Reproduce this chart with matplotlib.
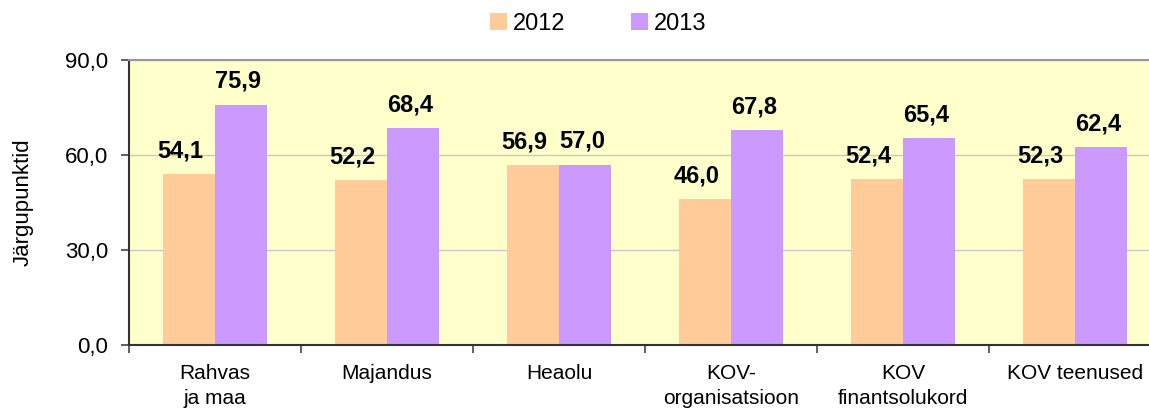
import numpy as np
import matplotlib.pyplot as plt
from matplotlib.ticker import FuncFormatter

plt.rcParams["font.family"] = ["Liberation Sans", "DejaVu Sans"]

categories = ["Rahvas\nja maa", "Majandus", "Heaolu", "KOV-\norganisatsioon",
              "KOV\nfinantsolukord", "KOV teenused"]
vals_2012 = [54.1, 52.2, 56.9, 46.0, 52.4, 52.3]
vals_2013 = [75.9, 68.4, 57.0, 67.8, 65.4, 62.4]
series = ["2012", "2013"]
colors = ["#FFCC99", "#CC99FF"]

W, H = 1149, 418
fig = plt.figure(figsize=(W / 100, H / 100), dpi=100)
ax = fig.add_axes([129 / W, 73 / H, 1032 / W, 285 / H])
ax.set_facecolor("#FFFFCC")

x = np.arange(len(categories)) + 0.5
bw = 0.303
bars1 = ax.bar(x - bw / 2, vals_2012, bw, color=colors[0], label=series[0], zorder=2)
bars2 = ax.bar(x + bw / 2, vals_2013, bw, color=colors[1], label=series[1], zorder=2)

# value labels, slightly left of bar centre like the original
for bars, dx in ((bars1, -6), (bars2, -2)):
    for b in bars:
        v = b.get_height()
        ax.annotate(f"{v:.1f}".replace(".", ","), (b.get_x() + b.get_width() / 2, v),
                    xytext=(dx, 12), textcoords="offset points", ha="center", va="baseline",
                    fontsize=17, fontweight="bold")

ax.set_xlim(0, 6)
ax.set_ylim(0, 90)
ax.set_yticks([0, 30, 60, 90])
ax.yaxis.set_major_formatter(FuncFormatter(lambda v, p: f"{v:.1f}".replace(".", ",")))
ax.set_xticks(np.arange(0, 7))
ax.set_xticklabels([])
ax.set_xticks(x, minor=True)
ax.set_xticklabels(categories, minor=True, fontsize=15, linespacing=1.4)
ax.tick_params(axis="x", which="minor", length=0, pad=14)
ax.tick_params(axis="x", which="major", length=6, width=1.2, color="#444444", direction="out")
ax.tick_params(axis="y", length=6, width=1.2, color="#444444", labelsize=16, pad=9)
ax.grid(axis="y", color="#C8C8C8", linewidth=1, zorder=0)

ax.spines["left"].set_color("#333333")
ax.spines["bottom"].set_color("#333333")
ax.spines["top"].set_color("#999999")
ax.spines["right"].set_visible(False)
for s in ax.spines.values():
    s.set_linewidth(1.5)

ax.set_ylabel("Järgupunktid", fontsize=16)
ax.yaxis.set_label_coords((34 - 129) / 1032, 0.5)

fig.legend(loc="center", bbox_to_anchor=(598 / W, 1 - 24 / H), ncol=2, frameon=False,
           fontsize=17, handlelength=0.72, handleheight=0.72, handletextpad=0.25,
           columnspacing=2.8, borderpad=0)

fig.savefig("out.png", dpi=100)
